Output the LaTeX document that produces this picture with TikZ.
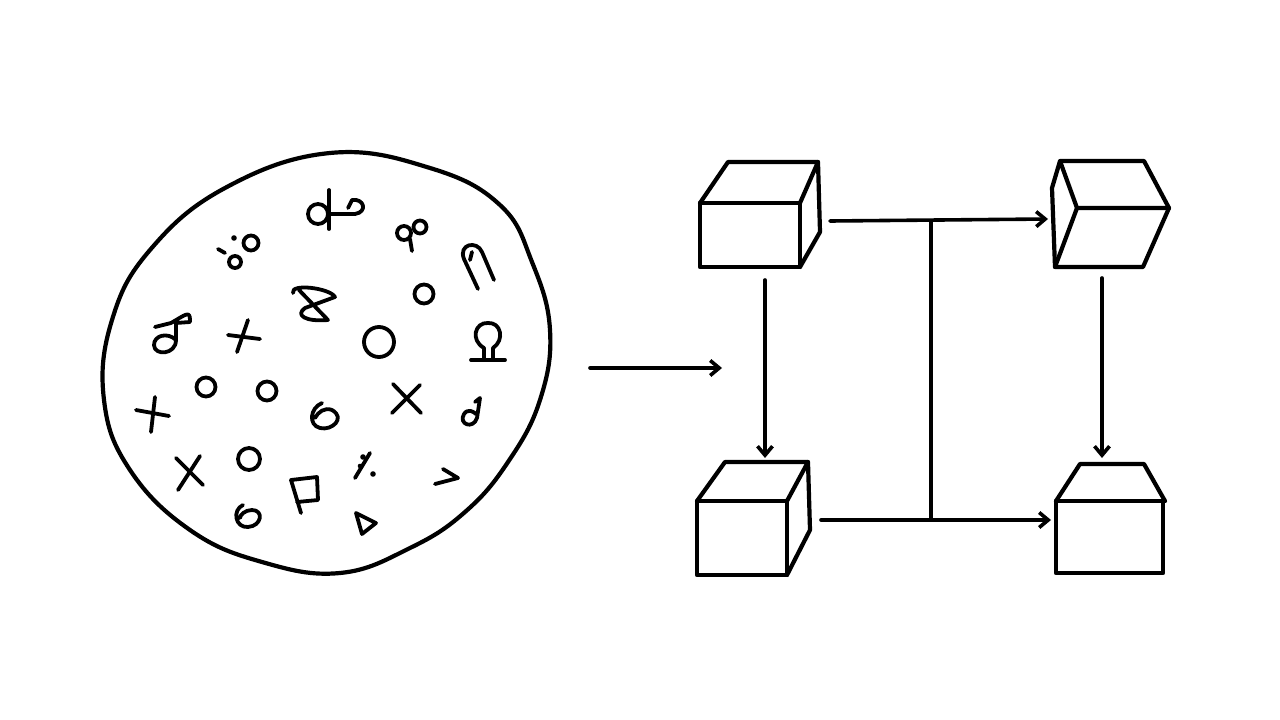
\documentclass[tikz,border=0pt]{standalone}
\usetikzlibrary{arrows.meta}
\begin{document}
\begin{tikzpicture}[x=1pt,y=-1pt,line cap=round,line join=round,
  ln/.style={line width=4.2pt},
  conn/.style={line width=3.6pt,-{Straight Barb[length=9pt,width=15pt,line width=3.6pt]}},
  pl/.style={line width=3.8pt}]
\useasboundingbox[fill=white] (0,0) rectangle (1280,720);
% blob
\draw[ln] plot[smooth cycle,tension=0.7] coordinates{(330,153)(430,168)(500,205)(532,262)(550,330)(540,400)(508,462)(465,512)(410,548)(340,573)(262,562)(190,530)(130,470)(104,400)(112,320)(150,250)(225,188)};
% symbols
\begin{scope}[pl]
\draw (318,214) circle (10); \draw (329,190)--(329,229); \draw (329,214)--(355,214) .. controls (368,212) and (364,198) .. (352,200) -- (348,208);
\draw (404,233) circle (7); \draw (420,227) circle (6.5); \draw (410,239)--(412,251);
\draw (218,249)--(225,253); \fill (234,238) circle (2.8); \draw (235,262) circle (6); \draw (251,243) circle (7.5);
\draw (478,289)--(464,259) .. controls (458,244) and (477,240) .. (482,252) -- (494,280); \draw (472,252)--(470,260);
\draw (293,293) .. controls (290,283) and (330,288) .. (335,297) -- (305,308) .. controls (295,315) and (305,322) .. (328,320) -- (299,290);
\draw (424,294) circle (9.5);
\draw (155,327)--(171,323) .. controls (185,315) and (190,310) .. (190,320) -- (190,322) -- (176,323) -- (176,340) .. controls (176,355) and (154,356) .. (154,345) .. controls (154,335) and (168,332) .. (176,340);
\draw (228,335)--(260,339); \draw (248,320)--(237,352);
\draw (379,342) circle (15);
\draw (471,360)--(505,360); \draw (484,359) -- (484,348) .. controls (470,340) and (475,322) .. (488,323) .. controls (501,322) and (505,340) .. (493,348) -- (493,359);
\draw (206,387) circle (9.5); \draw (267,391) circle (9.5);
\draw (136,410)--(169,416); \draw (155,397)--(151,432);
\draw (322,403) .. controls (310,408) and (308,425) .. (320,428) .. controls (332,431) and (346,418) .. (332,410) .. controls (325,407) and (318,412) .. (315,418);
\draw (393,384)--(421,413); \draw (420,385)--(392,413);
\draw (475,402) -- (480,398) -- (477,418) .. controls (473,430) and (458,424) .. (464,414) .. controls (468,408) and (474,412) .. (476,414);
\draw (176,458)--(203,485); \draw (200,456)--(178,490);
\draw (249,459) circle (11);
\draw (370,453)--(355,478); \fill (363,457) circle (2.8); \fill (373,474) circle (2.8); \fill (360,466) circle (2.3);
\draw (443,469)--(458,478)--(435,484);
\draw (243,505) .. controls (232,510) and (235,528) .. (248,527) .. controls (262,526) and (264,510) .. (252,510) .. controls (245,510) and (240,515) .. (240,518);
\draw (301,513)--(291,480)--(317,477)--(318,500)--(297,502);
\draw (356,513)--(376,523)--(362,534)--cycle;
\end{scope}
% arrow
\coordinate (a1) at (590,368); \coordinate (a2) at (722,368);
\draw[conn] (a1)--(a2);
% cubes
\begin{scope}[ln]
\draw (700,203) rectangle (800,267); \draw (700,203)--(728,162)--(818,162)--(800,203); \draw (818,162)--(820,232)--(800,267);
\draw (697,501) rectangle (787,575); \draw (697,501)--(725,462)--(808,462)--(787,501); \draw (808,462)--(810,530)--(787,575);
\draw (1060,161)--(1144,161)--(1169,208)--(1143,267)--(1055,267)--(1052,188)--cycle; \draw (1060,161)--(1077,208)--(1169,208); \draw (1077,208)--(1055,267);
\draw (1056,501) rectangle (1163,573); \draw (1056,501)--(1080,464)--(1144,464)--(1165,501);
\end{scope}
\coordinate (t1) at (830,221); \coordinate (t2) at (1048,219);
\coordinate (b1) at (821,520); \coordinate (b2) at (1051,520);
\coordinate (v1) at (931,222); \coordinate (v2) at (931,519);
\coordinate (l1) at (765,280); \coordinate (l2) at (765,458);
\coordinate (r1) at (1102,278); \coordinate (r2) at (1102,458);
\draw[conn] (t1)--(t2);
\draw[conn] (b1)--(b2);
\draw[pl] (v1)--(v2);
\draw[conn] (l1)--(l2);
\draw[conn] (r1)--(r2);
\end{tikzpicture}
\end{document}
